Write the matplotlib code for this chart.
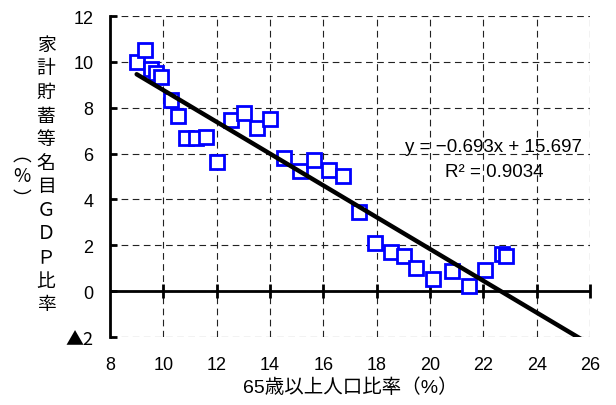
import numpy as np
import matplotlib
matplotlib.use("Agg")
from matplotlib import pyplot as plt

plt.rcParams['font.family'] = ['Liberation Sans', 'Noto Sans CJK JP', 'DejaVu Sans']

# 65歳以上人口比率(%) vs 家計貯蓄等名目GDP比率(%)
aged_ratio = [9.0, 9.3, 9.52, 9.71, 9.91, 10.28, 10.54, 10.84, 11.21, 11.59,
              12.02, 12.52, 13.01, 13.5, 14.01, 14.52, 15.12, 15.65, 16.21, 16.72,
              17.35, 17.94, 18.54, 19.04, 19.47, 20.12, 20.81, 21.47, 22.06, 22.69, 22.85]
saving_ratio = [10.0, 10.5, 9.69, 9.52, 9.34, 8.34, 7.66, 6.69, 6.69, 6.74,
                5.62, 7.48, 7.76, 7.12, 7.52, 5.79, 5.23, 5.73, 5.30, 5.04,
                3.46, 2.1, 1.69, 1.52, 1.0, 0.55, 0.86, 0.21, 0.92, 1.62, 1.54]

slope = -0.693
intercept = 15.697
r2 = 0.9034

xticks = [8, 10, 12, 14, 16, 18, 20, 22, 24, 26]
yticks = [-2, 0, 2, 4, 6, 8, 10, 12]
ytick_labels = ['▲2', '0', '2', '4', '6', '8', '10', '12']

fig = plt.figure(figsize=(6.16, 4.06), dpi=100)
ax = fig.add_axes([110/616, 68/406, 480/616, 321/406])

ax.set_xlim(8, 26)
ax.set_ylim(-2, 12)
ax.set_xticks(xticks)
ax.set_yticks(yticks)
ax.set_yticklabels(ytick_labels)
# the triangle needs the CJK font to get its full size
ax.get_yticklabels()[0].set_family(['Noto Sans CJK JP'])

for side in ['top', 'right', 'bottom']:
    ax.spines[side].set_visible(False)
ax.spines['left'].set_linewidth(2)

ax.grid(True, ls=(0, (6, 4)), color='#222222', lw=0.8)
ax.set_axisbelow(True)

ax.tick_params(axis='y', direction='in', length=5, width=2, labelsize=13, pad=12)
ax.tick_params(axis='x', length=0, labelsize=13, pad=14)

# x axis at zero with crossing tick marks
ax.axhline(0, color='k', lw=2, zorder=2)
ax.plot(xticks[1:], [0]*len(xticks[1:]), ls='none', marker='|', ms=10, mew=2,
        color='k', clip_on=False, zorder=2)

# points
ax.plot(aged_ratio, saving_ratio, ls='none', marker='s', ms=10.5, mfc='white',
        mec='#0000ff', mew=2, zorder=3, clip_on=False)

# trend line
x_line = np.array([min(aged_ratio), 26])
ax.plot(x_line, slope*x_line + intercept, color='k', lw=3.2, zorder=4,
        solid_capstyle='round')

ax.text(22.4, 6.33, 'y = −0.693x + 15.697', ha='center', va='center', fontsize=13.5, zorder=5)
ax.text(22.4, 5.2, f'R² = {r2}', ha='center', va='center', fontsize=13.5, zorder=5)

ax.set_xlabel('65歳以上人口比率（%）', fontsize=14, labelpad=3)

# vertical y label
ylab = '家計貯蓄等名目ＧＤＰ比率'
fig.text(46/616, 1 - 175/406, '\n'.join(ylab), ha='center', va='center',
         fontsize=13.5, linespacing=1.16, family=['Noto Sans CJK JP'])
fig.text(22/616, 1 - 177/406, '︵\n%\n︶', ha='center', va='center',
         fontsize=13.5, linespacing=1.05, family=['Noto Sans CJK JP'])

fig.savefig('out.png', dpi=100)
